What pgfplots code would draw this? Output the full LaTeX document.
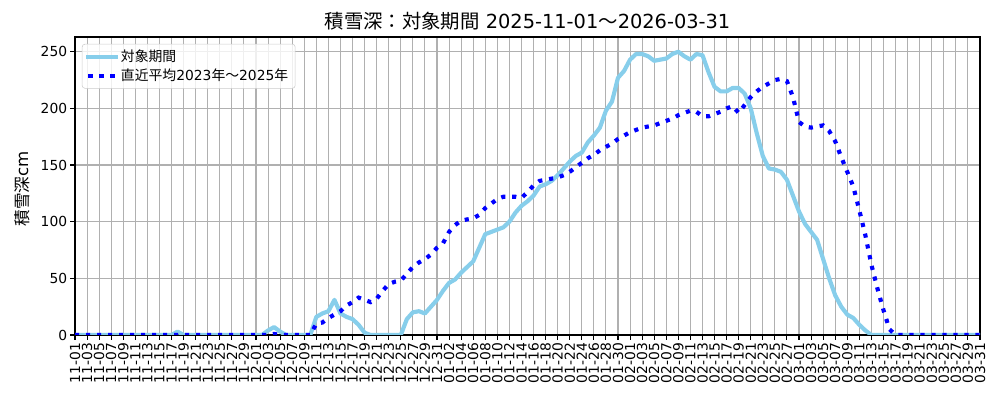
\documentclass[border=0pt]{standalone}
\usepackage{fontspec}
\setmainfont{DejaVu Sans}
\newfontfamily\cjk{Noto Sans CJK JP}
\usepackage{pgfplots}
\usepackage{pgfplotstable}
\pgfplotsset{compat=1.18}
\definecolor{skyblue}{RGB}{135,206,235}
\definecolor{gridgray}{RGB}{176,176,176}
\definecolor{legedge}{RGB}{204,204,204}

\pgfplotstableread[row sep=\\]{
x cur avg\\
0 0 0\\ 1 0 0\\ 2 0 0\\ 3 0 0\\ 4 0 0\\ 5 0 0\\ 6 0 0\\ 7 0 0\\ 8 0 0\\ 9 0 0\\
10 0 0\\ 11 0 0\\ 12 0 0\\ 13 0 0\\ 14 0 0\\ 15 0 0\\ 16 0 0\\ 17 3 0\\ 18 0 0\\ 19 0 0\\
20 0 0\\ 21 0 0\\ 22 0 0\\ 23 0 0\\ 24 0 0\\ 25 0 0\\ 26 0 0\\ 27 0 0\\ 28 0 0\\ 29 0 0\\
30 0 0\\ 31 0 0\\ 32 4 0\\ 33 7 1\\ 34 3 0\\ 35 0 0\\ 36 0 0\\ 37 0 0\\ 38 0 0\\ 39 0 0\\
40 16 10\\ 41 19 11\\ 42 21 15\\ 43 31 18\\ 44 19 21\\ 45 16 26\\ 46 14 29\\ 47 9 33\\ 48 2 31\\ 49 0 29\\
50 0 32\\ 51 0 39\\ 52 0 45\\ 53 0 47\\ 54 0 48\\ 55 14 54\\ 56 20 60\\ 57 21 64\\ 58 19 67\\ 59 25 71\\
60 31 77\\ 61 39 81\\ 62 46 91\\ 63 49 97\\ 64 55 101\\ 65 60 102\\ 66 65 103\\ 67 77 106\\ 68 89 112\\ 69 91 116\\
70 93 120\\ 71 95 122\\ 72 100 122\\ 73 108 122\\ 74 114 121\\ 75 118 126\\ 76 123 132\\ 77 131 136\\ 78 133 137\\ 79 136 138\\
80 141 139\\ 81 147 141\\ 82 153 144\\ 83 158 148\\ 84 161 152\\ 85 170 156\\ 86 176 159\\ 87 183 163\\ 88 198 166\\ 89 206 169\\
90 227 173\\ 91 233 176\\ 92 243 179\\ 93 248 181\\ 94 248 183\\ 95 246 184\\ 96 242 185\\ 97 243 187\\ 98 244 189\\ 99 248 191\\
100 250 194\\ 101 246 196\\ 102 243 198\\ 103 248 197\\ 104 247 193\\ 105 232 193\\ 106 219 195\\ 107 215 197\\ 108 215 200\\ 109 218 202\\
110 218 196\\ 111 213 203\\ 112 200 210\\ 113 178 215\\ 114 158 219\\ 115 147 222\\ 116 146 225\\ 117 144 226\\ 118 137 224\\ 119 123 210\\
120 109 188\\ 121 98 184\\ 122 91 183\\ 123 84 184\\ 124 67 185\\ 125 50 180\\ 126 35 171\\ 127 25 157\\ 128 18 144\\ 129 15 131\\
130 9 110\\ 131 4 88\\ 132 0 62\\ 133 0 41\\ 134 0 22\\ 135 0 5\\ 136 0 0\\ 137 0 0\\ 138 0 0\\ 139 0 0\\
140 0 0\\ 141 0 0\\ 142 0 0\\ 143 0 0\\ 144 0 0\\ 145 0 0\\ 146 0 0\\ 147 0 0\\ 148 0 0\\ 149 0 0\\ 150 0 0\\
}\snow

\begin{document}
\begin{tikzpicture}
\useasboundingbox (0,0) rectangle (10in,4in);
\begin{axis}[
  at={(0.75in,0.65in)}, anchor=south west,
  scale only axis, width=9.05in, height=2.98in,
  xmin=0, xmax=150, ymin=0, ymax=263,
  xtick={0,2,...,150},
  xticklabels={11-01,11-03,11-05,11-07,11-09,11-11,11-13,11-15,11-17,11-19,11-21,11-23,11-25,11-27,11-29,
    12-01,12-03,12-05,12-07,12-09,12-11,12-13,12-15,12-17,12-19,12-21,12-23,12-25,12-27,12-29,12-31,
    01-02,01-04,01-06,01-08,01-10,01-12,01-14,01-16,01-18,01-20,01-22,01-24,01-26,01-28,01-30,
    02-01,02-03,02-05,02-07,02-09,02-11,02-13,02-15,02-17,02-19,02-21,02-23,02-25,02-27,
    03-01,03-03,03-05,03-07,03-09,03-11,03-13,03-15,03-17,03-19,03-21,03-23,03-25,03-27,03-29,03-31},
  ytick={0,50,...,250},
  tick pos=left, tick align=outside, major tick length=3.5pt,
  tick style={black, line width=0.8pt},
  axis line style={line width=0.8pt},
  grid=major, major grid style={gridgray, line width=0.8pt},
  /pgf/number format/assume math mode=true,
  ticklabel style={font=\fontsize{10}{12}\selectfont},
  xticklabel style={rotate=90, anchor=east, inner sep=2pt},
  yticklabel style={inner sep=2pt},
  title={{\cjk 積雪深：対象期間} 2025-11-01{\cjk ～}2026-03-31},
  title style={font=\fontsize{14}{16}\selectfont, at={(axis description cs:0.5,1)}, anchor=base, yshift=0pt},
  ylabel={{\cjk 積雪深}cm},
  ylabel style={font=\fontsize{12}{14}\selectfont, at={(axis description cs:0,0.5)}, anchor=center, xshift=-2pt, yshift=38.5pt},
  legend style={at={(0,1)}, anchor=north west, xshift=5pt, yshift=-5pt,
    draw=legedge, rounded corners=2pt, fill=white, fill opacity=0.8, text opacity=1,
    font=\fontsize{10}{12}\selectfont, inner xsep=3pt, inner ysep=2pt, row sep=0pt},
  legend cell align=left,
  legend image code/.code={\draw[#1] (0pt,0pt) -- (20pt,0pt);},
]
\addplot[skyblue, line width=3pt, line cap=rect, line join=round] table[x=x, y=cur] {\snow};
\addlegendentry{{\cjk 対象期間}}
\addplot[blue, line width=3pt, line cap=butt, dash pattern=on 3pt off 4.95pt] table[x=x, y=avg] {\snow};
\addlegendentry{{\cjk 直近平均}2023{\cjk 年～}2025{\cjk 年}}
\end{axis}
\end{tikzpicture}
\end{document}
